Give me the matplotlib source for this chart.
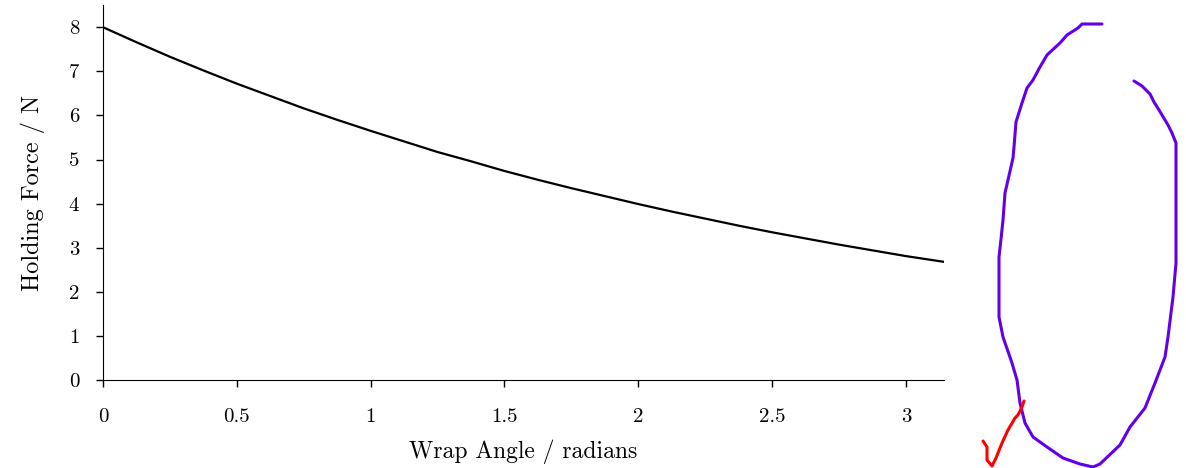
# holding force vs wrap angle, with the pen doodle on the right
import numpy as np
import matplotlib.pyplot as plt

plt.rcParams['font.family'] = ['cmr10', 'DejaVu Serif']
plt.rcParams['axes.formatter.use_mathtext'] = True

# curve
angle = [0, 0.125, 0.25, 0.375, 0.5, 0.625, 0.75, 0.875, 1.0, 1.125, 1.25, 1.375, 1.5, 1.625,
         1.75, 1.875, 2.0, 2.125, 2.25, 2.375, 2.5, 2.625, 2.75, 2.875, 3.0, 3.1416]
force = [8.0, 7.66, 7.33, 7.02, 6.72, 6.44, 6.16, 5.90, 5.65, 5.41, 5.17, 4.96, 4.74, 4.54,
         4.35, 4.17, 3.99, 3.82, 3.66, 3.50, 3.35, 3.21, 3.07, 2.94, 2.81, 2.68]

xticks = [0, 0.5, 1, 1.5, 2, 2.5, 3]
xticklabels = ['0', '0.5', '1', '1.5', '2', '2.5', '3']
yticks = [0, 1, 2, 3, 4, 5, 6, 7, 8]

# doodle strokes, in picture pixels
purple_x = [1102, 1082, 1078, 1067, 1060, 1047, 1040, 1033, 1027, 1022, 1016, 1014, 1013, 1008, 1005,
            1003, 1001, 999, 999, 1003, 1012, 1017, 1020, 1025, 1033, 1047, 1063, 1080, 1093, 1100,
            1120, 1130, 1145, 1155, 1165, 1168, 1173, 1176, 1176, 1176, 1172, 1168, 1159, 1154, 1150,
            1142, 1134]
purple_y = [24, 24, 28, 35, 43, 55, 67, 80, 88, 103, 122, 147, 158, 180, 193,
            220, 239, 257, 317, 337, 363, 380, 403, 423, 437, 447, 458, 464, 467, 464,
            445, 427, 408, 383, 357, 337, 297, 263, 230, 143, 133, 125, 110, 102, 94,
            86, 81]
red_x = [983, 987, 987, 992, 996, 1002, 1008, 1015, 1018, 1022, 1024]
red_y = [441, 447, 460, 466, 458, 443, 430, 418, 415, 407, 401]

fig = plt.figure(figsize=(11.86, 4.68), dpi=100)
ax = fig.add_axes([0.0868, 0.188, 0.709, 0.801])

ax.plot(angle, force, color='black', lw=1.6)
ax.set_xlim(0, 3.1416)
ax.set_ylim(0, 8.5)
ax.set_xticks(xticks)
ax.set_xticklabels(xticklabels)
ax.set_yticks(yticks)
ax.set_yticklabels([str(t) for t in yticks])
ax.spines['top'].set_visible(False)
ax.spines['right'].set_visible(False)
ax.tick_params(direction='out', length=5, width=1.0, labelsize=15)
ax.tick_params(axis='x', pad=15)
ax.tick_params(axis='y', pad=12)
ax.set_xlabel('Wrap Angle / radians', fontsize=17, labelpad=10)
ax.set_ylabel('Holding Force / N', fontsize=17.5, labelpad=17)

# overlay for the doodle
dd = fig.add_axes([0, 0, 1, 1], facecolor='none')
dd.set_xlim(0, 1186)
dd.set_ylim(468, 0)
dd.axis('off')
dd.plot(purple_x, purple_y, color='#6200ea', lw=2.2, solid_capstyle='round', solid_joinstyle='round')
dd.plot(red_x, red_y, color='#ff0000', lw=2.2, solid_capstyle='round', solid_joinstyle='round')

fig.savefig('out.png', dpi=100)
